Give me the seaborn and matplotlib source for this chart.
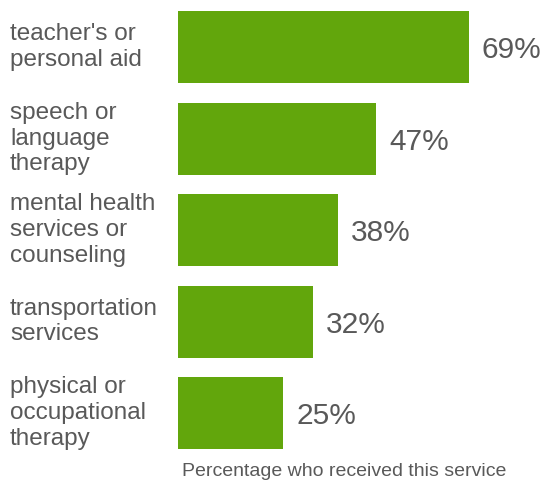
import matplotlib
matplotlib.use("Agg")
import matplotlib.pyplot as plt
import matplotlib.transforms as mtransforms
import seaborn as sns
import pandas as pd

services = [
    "teacher's or\npersonal aid",
    "speech or\nlanguage\ntherapy",
    "mental health\nservices or\ncounseling",
    "transportation\nservices",
    "physical or\noccupational\ntherapy",
]
percent = [69, 47, 38, 32, 25]
value_labels = ["69%", "47%", "38%", "32%", "25%"]
x_title = "Percentage who received this service"

sns.set_theme(style="white")
plt.rcParams["font.family"] = ["Liberation Sans", "DejaVu Sans"]

bar_color = "#62a60c"
text_color = "#595959"

W, H = 543, 483
fig = plt.figure(figsize=(W / 100, H / 100), dpi=100)
ax = fig.add_axes([178 / W, 0, (W - 178) / W, 1])

df = pd.DataFrame({"service": services, "percent": percent})
sns.barplot(data=df, x="percent", y="service", color=bar_color,
            saturation=1, width=0.787, ax=ax, edgecolor="none")

ax.set_xlim(0, (W - 178) / 4.217)
ax.set_ylim(4.765, -0.514)
for s in ax.spines.values():
    s.set_visible(False)
ax.set_xticks([])
ax.set_yticks([])
ax.set_xlabel("")
ax.set_ylabel("")

# value labels to the right of each bar
for i, (v, lab) in enumerate(zip(percent, value_labels)):
    ax.annotate(lab, xy=(v, i), xytext=(13, -3), textcoords="offset pixels",
                ha="left", va="center", fontsize=21.5, color=text_color)

# category names, left aligned near the figure edge
trans = mtransforms.blended_transform_factory(fig.transFigure, ax.transData)
for i, name in enumerate(services):
    ax.text(10 / W, i, name, transform=trans, ha="left", va="center",
            fontsize=17.5, color=text_color, linespacing=1.22)

fig.text(344 / W, 1 - 471 / H, x_title, ha="center", va="center",
         fontsize=14, color=text_color)

fig.savefig("out.png", dpi=100)
